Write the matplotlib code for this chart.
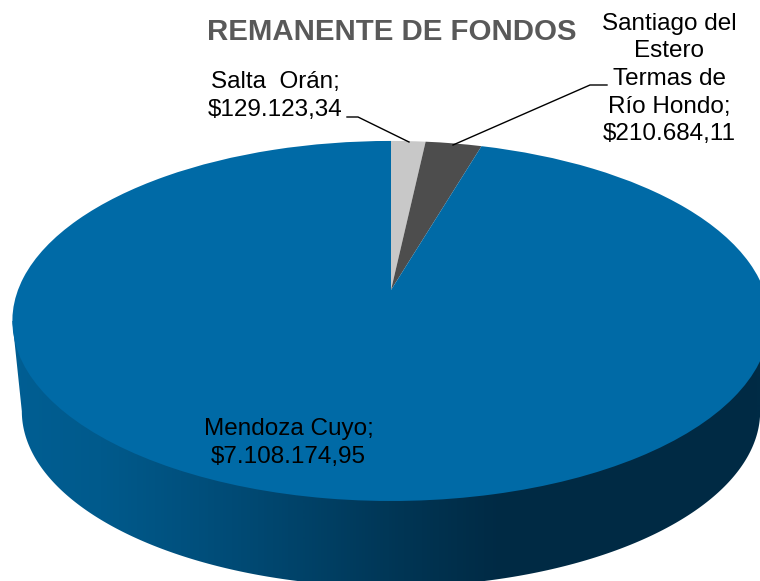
import numpy as np
import matplotlib
matplotlib.use("Agg")
import matplotlib.pyplot as plt
from matplotlib.colors import LinearSegmentedColormap
from matplotlib.patches import Polygon
from matplotlib.transforms import Transform

plt.rcParams['font.family'] = ['Liberation Sans', 'DejaVu Sans']

# ---- data ----
regions = ["Salta  Orán", "Santiago del Estero Termas de Río Hondo", "Mendoza Cuyo"]
values = [129123.34, 210684.11, 7108174.95]
label_texts = ["Salta  Orán;\n$129.123,34",
               "Santiago del\nEstero\nTermas de\nRío Hondo;\n$210.684,11",
               "Mendoza Cuyo;\n$7.108.174,95"]
slice_colors = ["#C8C8C8", "#4D4D4D", "#006AA6"]
title = "REMANENTE DE FONDOS"

W, H = 760, 581
APEX = (391.0, 290.0)
K, AX, BY = 0.172, 373.0, 174.7
RIM_SCALE, RIM_DROP = 0.975, 91.0


class Perspective(Transform):
    """Tilted-disc projection of the unit pie circle into pixel space."""
    input_dims = output_dims = 2
    is_separable = False
    has_inverse = False

    def __init__(self, scale=1.0, drop=0.0):
        super().__init__()
        self.scale, self.drop = scale, drop

    def transform_non_affine(self, values):
        v = np.asarray(values, float)
        d = 1 + K * v[:, 1]
        x = APEX[0] + self.scale * AX * v[:, 0] / d
        y = APEX[1] + self.drop - self.scale * BY * v[:, 1] / d
        return np.column_stack([x, y])


fig = plt.figure(figsize=(W / 100, H / 100), dpi=100)
ax = fig.add_axes([0, 0, 1, 1])

wedges, _ = ax.pie(values, colors=slice_colors, startangle=90, counterclock=False,
                   wedgeprops=dict(linewidth=0), radius=1.0)
top_proj = Perspective()
for w in wedges:
    w.set_transform(top_proj + ax.transData)
    w.set_zorder(3)

# side wall
a = np.arcsin(K)
ang = np.linspace(np.pi + a, 2 * np.pi - a, 240)
rim = Perspective(RIM_SCALE, RIM_DROP).transform_non_affine(np.column_stack([np.cos(ang), np.sin(ang)]))
left = top_proj.transform_non_affine(np.array([[np.cos(np.pi + a), np.sin(np.pi + a)]]))
right = top_proj.transform_non_affine(np.array([[np.cos(-a), np.sin(-a)]]))
wall = Polygon(np.vstack([left, rim, right]), closed=True, facecolor="none",
               edgecolor="none", transform=ax.transData)
ax.add_patch(wall)
stops = [(0.0, "#005F94"), (0.13, "#005A8C"), (0.26, "#004F7C"), (0.36, "#00466E"),
         (0.53, "#003554"), (0.66, "#002A44"), (1.0, "#002B45")]
cmap = LinearSegmentedColormap.from_list("wall", stops)
img = ax.imshow(np.linspace(0, 1, 760)[None, :], cmap=cmap, extent=(0, W, H, 0),
                aspect="auto", interpolation="bilinear", zorder=1)
img.set_clip_path(wall)

ax.set_aspect("auto")
ax.set_xlim(0, W)
ax.set_ylim(H, 0)
ax.axis("off")

# text
LABEL = 17.5
SPACING = 1.33
ax.text(391.5, 32, title, ha="center", va="center", fontsize=21.2, fontweight="bold",
        color="#595959", zorder=5)
ax.text(275.5, 96, label_texts[0], ha="center", va="center", fontsize=LABEL, color="black",
        linespacing=SPACING, zorder=5)
ax.text(669.5, 79, label_texts[1], ha="center", va="center", fontsize=LABEL, color="black",
        linespacing=SPACING, zorder=5)
ax.text(288.5, 443, label_texts[2], ha="center", va="center", fontsize=LABEL, color="black",
        linespacing=SPACING, zorder=5)

# leader lines
ax.plot([347, 358, 409], [117, 117, 142], color="black", lw=1.0, zorder=4, solid_joinstyle="miter")
ax.plot([607, 590, 453], [85, 85, 145], color="black", lw=1.0, zorder=4, solid_joinstyle="miter")

fig.savefig("out.png", dpi=100, facecolor="white")
